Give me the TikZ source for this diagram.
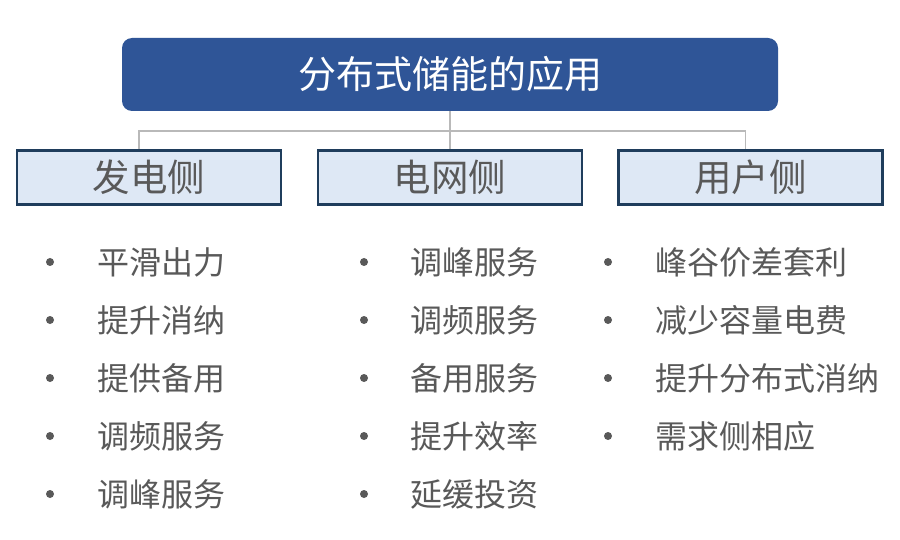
\documentclass[tikz,border=0pt]{standalone}
\usepackage{fontspec}
\newfontfamily\cjk{Noto Sans CJK SC}
\usetikzlibrary{positioning}
\definecolor{titleblue}{HTML}{2F5597}
\definecolor{sidefill}{HTML}{DEE8F5}
\definecolor{sideline}{HTML}{1F3D5C}
\definecolor{itemgray}{HTML}{595959}
\tikzset{
  side/.style={draw=sideline,line width=2.2pt,fill=sidefill,minimum width=264pt,minimum height=54pt,inner sep=0pt,text=itemgray,font=\cjk\fontsize{37.5}{37.5}\selectfont},
  item/.style={anchor=west,inner sep=0pt,text=itemgray,font=\cjk\fontsize{32}{32}\selectfont},
  dot/.style={circle,fill=itemgray,inner sep=0pt,minimum size=8pt},
  link/.style={draw=gray!55,line width=1.2pt}
}
\begin{document}
\begin{tikzpicture}[x=1pt,y=-1pt]
\useasboundingbox[fill=white](0,0) rectangle (900,540);
% title
\node[fill=titleblue,rounded corners=10pt,minimum width=656pt,minimum height=73pt,text=white,font=\cjk\fontsize{38}{38}\selectfont] (top) at (450,74.5) {分布式储能的应用};
% three sides
\node[side] (gen) at (149,177.5) {发电侧};
\node[side] (grid) at (450,177.5) {电网侧};
\node[side] (user) at (750.5,177.5) {用户侧};
\coordinate (fork) at (450,131);
\draw[link] (top.south) -- (fork);
\draw[link] (fork) -| ([xshift=-10pt]gen.north);
\draw[link] (fork) -- (grid.north);
\draw[link] (fork) -| ([xshift=-5pt]user.north);
% lists
\foreach \t [count=\i] in {平滑出力,提升消纳,提供备用,调频服务,调峰服务}{\node[dot] (gen-dot-\i) at (50,{204+58*\i}) {};\node[item] (gen-\i) at (97,{204+58*\i}) {\t};}
\foreach \t [count=\i] in {调峰服务,调频服务,备用服务,提升效率,延缓投资}{\node[dot] (grid-dot-\i) at (364,{204+58*\i}) {};\node[item] (grid-\i) at (410,{204+58*\i}) {\t};}
\foreach \t [count=\i] in {峰谷价差套利,减少容量电费,提升分布式消纳,需求侧相应}{\node[dot] (user-dot-\i) at (608,{204+58*\i}) {};\node[item] (user-\i) at (655,{204+58*\i}) {\t};}
\end{tikzpicture}
\end{document}
